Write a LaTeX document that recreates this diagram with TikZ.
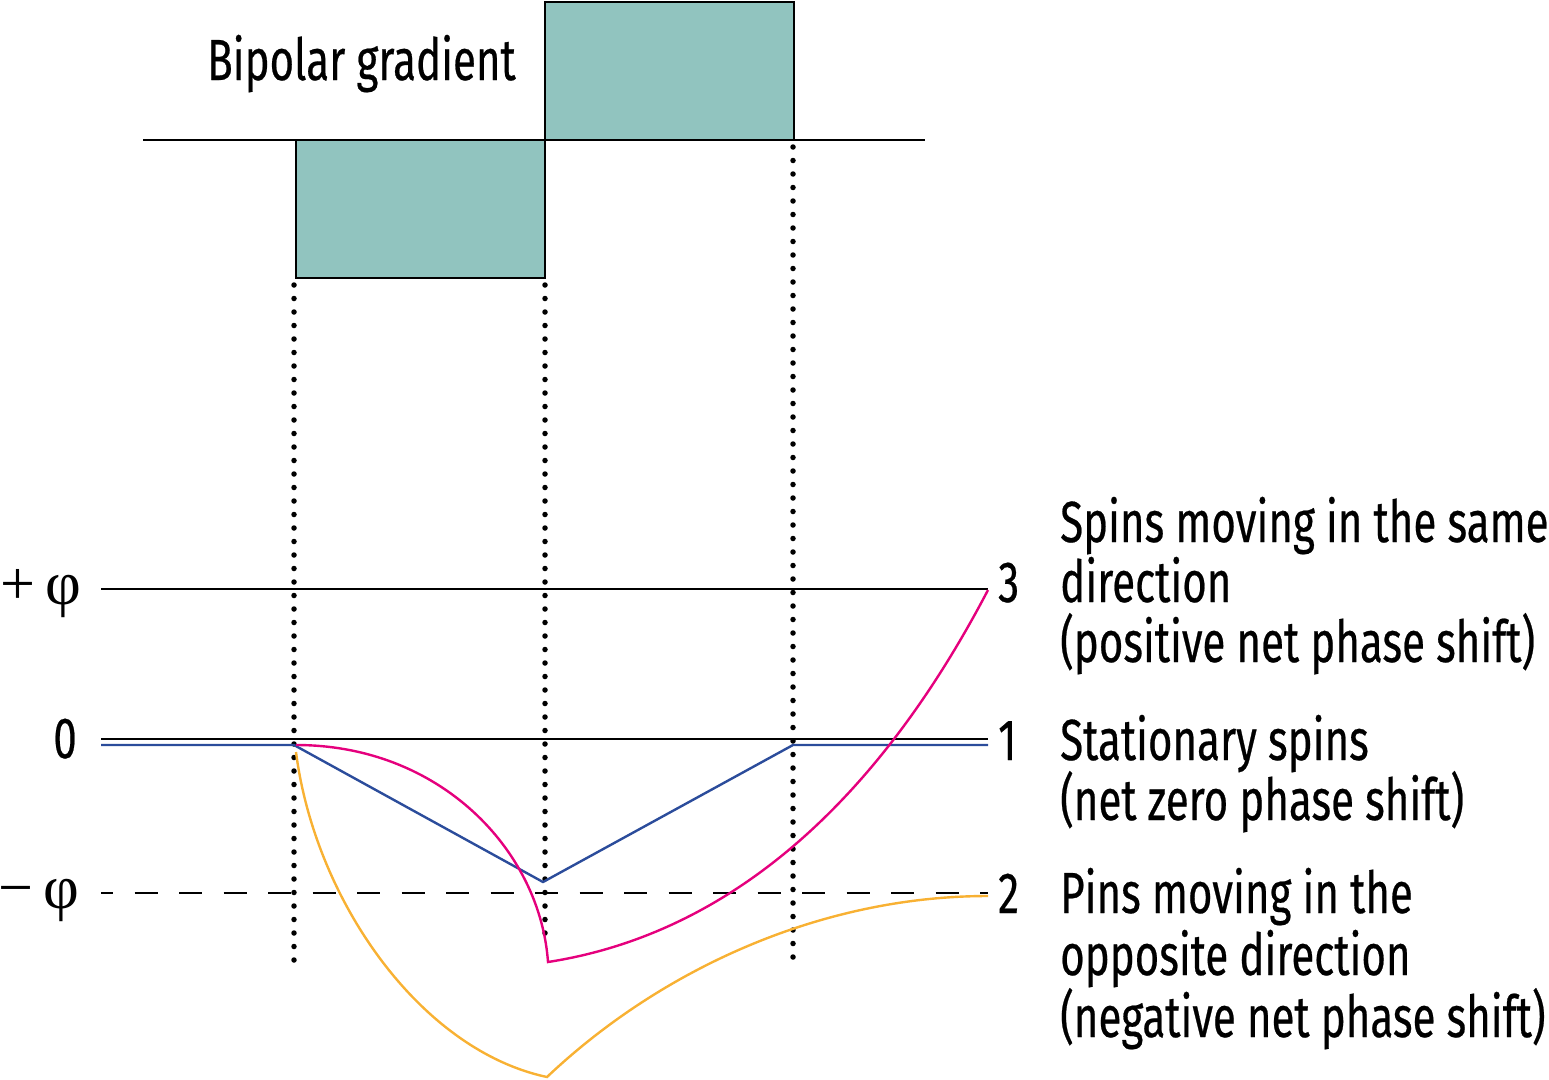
\documentclass[tikz,border=0pt]{standalone}
\usepackage{fontspec}
\setmainfont{Fira Sans}[FakeStretch=0.725, FakeBold=0.4]
\newfontfamily\phifont{Liberation Serif}
\usetikzlibrary{positioning}
\definecolor{gradfill}{HTML}{91C4BF}
\definecolor{spinblue}{HTML}{2B4C9B}
\definecolor{spinpink}{HTML}{E5007D}
\definecolor{spinorange}{HTML}{F8B133}
\tikzset{
  lbl/.style={inner sep=0pt, font=\fontsize{58}{60}\selectfont},
  phlbl/.style={inner sep=0pt, anchor=base east, font=\phifont\fontsize{62}{60}\selectfont},
  axis/.style={line width=2pt},
  dots/.style={line width=5.5pt, line cap=round, dash pattern=on 0pt off 13.5pt},
  spin/.style={line width=2.4pt}
}
\begin{document}
\begin{tikzpicture}[x=1pt, y=-1pt]
  \useasboundingbox (0,0) rectangle (1549,1079);
  % gradient lobes
  \draw[axis, fill=gradfill] (296,140) rectangle (545,278);
  \draw[axis, fill=gradfill] (545,2) rectangle (794,140);
  \draw[axis] (143,140) -- (925,140);
  \node[lbl, anchor=base west] (title) at (207,80) {Bipolar gradient};
  % timing marks
  \draw[dots] (294,285) -- (294,970);
  \draw[dots] (545,285) -- (545,945);
  \draw[dots] (793,147) -- (793,965);
  % phase levels
  \draw[axis] (101,589) -- (988,589);
  \draw[axis] (101,739) -- (988,739);
  \draw[axis, dash pattern=on 23pt off 21.5pt, dash phase=11pt] (101,893) -- (988,893);
  \node[phlbl] (plus) at (82,604) {+\,φ};
  \node[lbl, anchor=base east] (zero) at (77,758) {0};
  \node[phlbl] (minus) at (80,908) {−\,φ};
  % spin phases
  \draw[spin, spinblue] (101,745) -- (294,745) -- (543,882) -- (793,745) -- (988,745);
  \draw[spin, spinpink] (296,745) .. controls (440,745) and (540,850) .. (548,962)
    .. controls (722,935) and (872,812) .. (988,590);
  \draw[spin, spinorange] (296,752) .. controls (315,900) and (420,1050) .. (547,1077)
    .. controls (660,970) and (820,896) .. (988,896);
  % curve numbers
  \node[lbl, anchor=base west] (n3) at (998,602) {3};
  \node[lbl, anchor=base west] (n1) at (998,760) {1};
  \node[lbl, anchor=base west] (n2) at (998,913) {2};
  % descriptions
  \node[lbl, anchor=base west] (d3a) at (1060,542) {Spins moving in the same};
  \node[lbl, anchor=base west] (d3b) at (1060,602) {direction};
  \node[lbl, anchor=base west] (d3c) at (1060,662) {(positive net phase shift)};
  \node[lbl, anchor=base west] (d1a) at (1060,760) {Stationary spins};
  \node[lbl, anchor=base west] (d1b) at (1060,820) {(net zero phase shift)};
  \node[lbl, anchor=base west] (d2a) at (1060,913) {Pins moving in the};
  \node[lbl, anchor=base west] (d2b) at (1060,975) {opposite direction};
  \node[lbl, anchor=base west] (d2c) at (1060,1037) {(negative net phase shift)};
\end{tikzpicture}
\end{document}
